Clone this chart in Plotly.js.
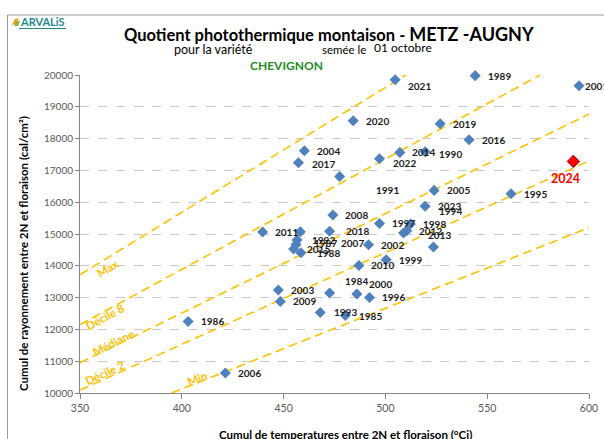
<!DOCTYPE html>
<html>
<head>
<meta charset="utf-8">
<script src="https://cdn.plot.ly/plotly-3.0.1.min.js"></script>
<style>html,body{margin:0;padding:0;background:#fff;}#chart{width:604px;height:439px;}</style>
</head>
<body>
<div id="chart"></div>
<script>
// ---- data ----
const years = [1984,1985,1986,1987,1988,1989,1990,1991,1992,1993,1994,1995,1996,1997,1998,1999,2000,2001,2002,2003,2004,2005,2006,2007,2008,2009,2010,2011,2012,2013,2014,2015,2016,2017,2018,2019,2020,2021,2022,2023];
const temps = [472.6,480.3,403.1,456.1,458.5,544.1,519.5,477.5,456.6,468.0,523.6,561.7,492.2,497.1,512.3,500.4,486.0,595.1,491.7,447.4,460.2,523.9,421.4,458.2,474.2,448.4,487.0,439.7,510.5,508.9,507.1,454.9,541.1,457.3,472.6,526.9,484.2,504.8,497.1,519.5];
const rays  = [13144,12440,12251,14672,14411,19980,17588,16811,14811,12534,14591,16267,13005,15333,15314,14191,13112,19660,14663,13238,17619,16371,10628,15072,15597,12880,14012,15062,15103,15031,17566,14528,17965,17242,15088,18468,18563,19852,17368,15874];
const year2024 = 2024, temp2024 = 592.3, ray2024 = 17283;

// reference lines (photothermal quotient) : end points
const refNames = ["Max","Décile 8","Médiane","Décile 2","Min"];
const refX = [[350,510],[350,576],[350,600],[350,600],[395,600]];
const refY = [[13720,20000],[12150,20000],[10950,18770],[10090,17300],[10000,15200]];
// label anchor points for reference lines
const refLabX = [363.3,362.5,366.4,362.5,407.5];
const refLabY = [13930,12408,11581,10637,10470];
const refLabAngle = [-31.6,-28.5,-26,-24.5,-21.5];

// ---- styles ----
const FONT = "Lato, 'Open Sans', sans-serif";
const labelShift = {2021:[11,6.7],2022:[11,4],2017:[12,1],1990:[12,2],1991:[34,14],1994:[3.4,-36],
  2013:[22,2],2018:[14,0],2007:[39,11],1992:[13,0],1987:[16,-1],2015:[11.7,0],1988:[14,0.7],
  1984:[13.7,-11.6],2000:[10,-10],1993:[11.7,0],1985:[11.7,1],2001:[4,0]};
const defShift = [10.5,0];
const L=80, R=15, T=75, B=46, W=604, H=439;
const pw = W-L-R, ph = H-T-B;
const px2x = p => (p-L)/pw, py2y = p => (H-B-p)/ph;

const traces = [];
refNames.forEach((n,i)=>{
  traces.push({x:refX[i], y:refY[i], mode:'lines', type:'scatter', hoverinfo:'skip',
    line:{color:'#FFC000', width:1.6, dash:'9px,5px'}, showlegend:false});
});
traces.push({x:temps, y:rays, mode:'markers', type:'scatter', cliponaxis:false,
  marker:{symbol:'diamond', size:8.5, color:'#4F81BD'}, showlegend:false});
traces.push({x:[temp2024], y:[ray2024], mode:'markers', type:'scatter', cliponaxis:false,
  marker:{symbol:'diamond', size:9.5, color:'#FF0000', line:{color:'#A00000', width:1}}, showlegend:false});

const ann = [];
years.forEach((yr,i)=>{
  const s = labelShift[yr] || defShift;
  ann.push({x:temps[i], y:rays[i], xref:'x', yref:'y', text:String(yr), showarrow:false,
    xanchor:'left', yanchor:'middle', xshift:s[0], yshift:-s[1],
    font:{family:FONT, size:10, color:'#1a1a1a', weight:'bold'}});
});
ann.push({x:temp2024, y:ray2024, xref:'x', yref:'y', text:String(year2024), showarrow:false,
  xanchor:'center', yanchor:'middle', xshift:-8, yshift:-17,
  font:{family:FONT, size:12.5, color:'#FF0000', weight:'bold'}});
refNames.forEach((n,i)=>{
  ann.push({x:refLabX[i], y:refLabY[i], xref:'x', yref:'y', text:n, showarrow:false,
    textangle:refLabAngle[i], xanchor:'center', yanchor:'middle',
    font:{family:FONT, size:11.5, color:'#FFC000', weight:'bold'}});
});
// titles
ann.push({x:px2x(122), y:py2y(34), xref:'paper', yref:'paper', xanchor:'left', yanchor:'middle', showarrow:false,
  text:"Quotient photothermique montaison - <span style='font-size:18px'>METZ -AUGNY</span>",
  font:{family:FONT, size:16.5, color:'#000', weight:'bold'}});
ann.push({x:px2x(172), y:py2y(50), xref:'paper', yref:'paper', xanchor:'left', yanchor:'middle', showarrow:false,
  text:"pour la variété", font:{family:FONT, size:12.5, color:'#000'}});
ann.push({x:px2x(320), y:py2y(50), xref:'paper', yref:'paper', xanchor:'left', yanchor:'middle', showarrow:false,
  text:"semée le", font:{family:FONT, size:11.5, color:'#000'}});
ann.push({x:px2x(372), y:py2y(48), xref:'paper', yref:'paper', xanchor:'left', yanchor:'middle', showarrow:false,
  text:"01 octobre", font:{family:FONT, size:12, color:'#000'}});
ann.push({x:px2x(248), y:py2y(66), xref:'paper', yref:'paper', xanchor:'left', yanchor:'middle', showarrow:false,
  text:"CHEVIGNON", font:{family:FONT, size:12, color:'#1E8C1E', weight:'bold'}});
ann.push({x:px2x(23), y:py2y(254), xref:'paper', yref:'paper', xanchor:'center', yanchor:'middle', showarrow:false,
  textangle:-90, text:"Cumul de rayonnement entre 2N et floraison (cal/cm²)",
  font:{family:FONT, size:11.5, color:'#000', weight:'bold'}});
ann.push({x:px2x(345), y:py2y(434), xref:'paper', yref:'paper', xanchor:'center', yanchor:'middle', showarrow:false,
  text:"Cumul de temperatures entre 2N et floraison (°Cj)",
  font:{family:FONT, size:11.5, color:'#000', weight:'bold'}});
// logo
ann.push({x:px2x(18), y:py2y(21), xref:'paper', yref:'paper', xanchor:'left', yanchor:'middle', showarrow:false,
  text:"ARVALiS", font:{family:FONT, size:11, color:'#1F8A8A', weight:'bold'}});

const shapes = [
  {type:'rect', xref:'paper', yref:'paper', x0:px2x(7.5), x1:px2x(640), y0:py2y(480), y1:py2y(15),
   line:{color:'#9A9A9A', width:1}, layer:'below'},
  {type:'line', xref:'paper', yref:'paper', x0:px2x(19), x1:px2x(66), y0:py2y(28.5), y1:py2y(28.5),
   line:{color:'#1F8A8A', width:1}},
  {type:'path', xref:'paper', yref:'paper',
   path:`M ${px2x(12)} ${py2y(25)} L ${px2x(15)} ${py2y(19)} L ${px2x(19)} ${py2y(18)} L ${px2x(16)} ${py2y(24)} Z`,
   fillcolor:'#E8A020', line:{width:0}},
  {type:'path', xref:'paper', yref:'paper',
   path:`M ${px2x(14)} ${py2y(26)} L ${px2x(17)} ${py2y(21)} L ${px2x(20)} ${py2y(21)} L ${px2x(18)} ${py2y(26)} Z`,
   fillcolor:'#8DB33A', line:{width:0}}
];

const layout = {
  width:W, height:H, margin:{l:L, r:R, t:T, b:B, pad:0},
  paper_bgcolor:'#fff', plot_bgcolor:'#fff', showlegend:false,
  font:{family:FONT, color:'#595959'},
  xaxis:{range:[350,600], dtick:50, tick0:350, showgrid:false, zeroline:false,
    showline:true, linecolor:'#868686', linewidth:1, ticks:'outside', ticklen:5, tickcolor:'#868686',
    tickfont:{family:FONT, size:10.5, color:'#595959'}, fixedrange:true},
  yaxis:{range:[10000,20000], dtick:1000, tick0:10000, tickformat:'d', showgrid:true, gridcolor:'#C8C8C8', griddash:'dash',
    zeroline:false, showline:true, linecolor:'#868686', linewidth:1, ticks:'outside', ticklen:4, tickcolor:'#868686',
    tickfont:{family:FONT, size:10, color:'#595959'}, fixedrange:true},
  annotations:ann, shapes:shapes
};
Plotly.newPlot('chart', traces, layout, {displayModeBar:false, staticPlot:true});
</script>
</body>
</html>
